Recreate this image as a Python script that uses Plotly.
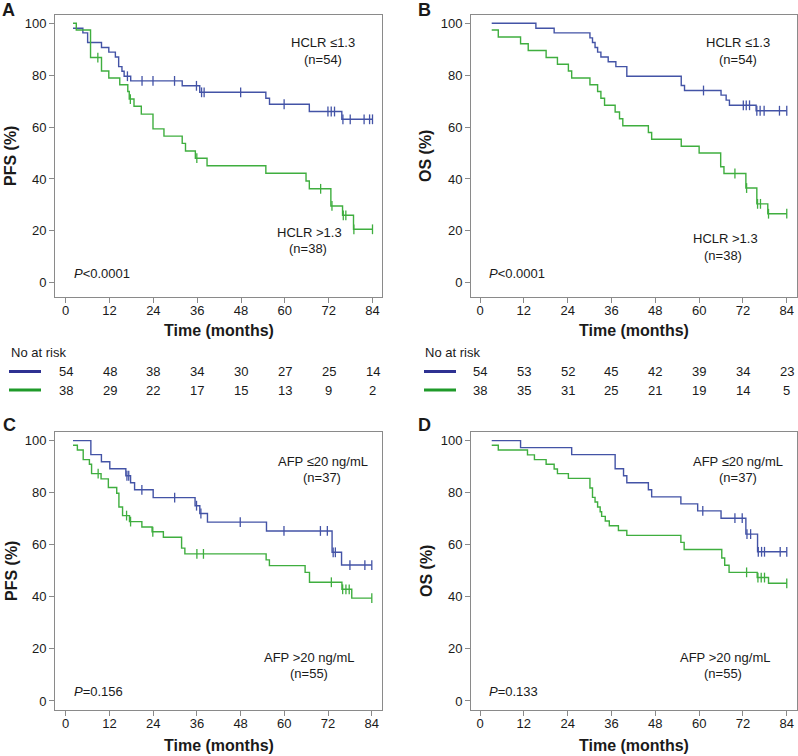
import plotly.graph_objects as go

W, H = 798, 756

# ---------------- data ----------------
# Panel A: PFS by HCLR
a_low_t = [2.0, 4.7, 6.0, 9.8, 11.8, 13.6, 14.5, 15.4, 16.0, 17.8, 31.9, 36.7, 54.8, 55.8, 66.7, 75.6, 84.0]
a_low_s = [98.1, 96.3, 92.6, 90.7, 88.9, 87.0, 83.3, 81.5, 79.6, 77.8, 75.9, 73.4, 71.1, 68.8, 66.0, 63.0, 63.0]
a_low_c = [16.9, 20.9, 23.9, 29.8, 35.8, 37.2, 37.9, 47.9, 59.8, 71.8, 72.7, 73.6, 75.9, 77.9, 81.7, 83.2, 84.0]
a_high_t = [2.0, 2.9, 6.8, 9.8, 11.8, 14.8, 17.0, 17.4, 18.7, 20.7, 23.9, 26.9, 31.9, 32.8, 35.5, 38.7, 54.8, 65.8, 66.7, 72.6, 75.8, 78.8, 84.0]
a_high_s = [100.0, 97.4, 86.8, 81.6, 78.9, 76.3, 73.7, 70.8, 68.0, 65.0, 59.3, 56.5, 53.7, 50.8, 48.0, 45.1, 42.2, 39.2, 36.2, 29.6, 26.0, 20.6, 20.6]
a_high_c = [8.8, 17.7, 35.9, 69.8, 72.9, 76.0, 76.7, 78.9, 84.0]

# Panel B: OS by HCLR
b_low_t = [3.2, 15.3, 20.3, 30.1, 30.8, 31.5, 32.2, 33.1, 35.1, 37.2, 40.2, 55.1, 56.0, 66.0, 67.4, 68.3, 75.6, 84.0]
b_low_s = [100.0, 98.1, 96.3, 94.4, 92.6, 90.7, 88.9, 87.0, 85.2, 83.3, 79.6, 76.0, 74.1, 72.3, 70.4, 68.4, 66.3, 66.3]
b_low_c = [61.2, 72.1, 72.9, 73.8, 75.8, 76.7, 77.8, 82.0, 84.0]
b_high_t = [3.2, 5.0, 11.1, 13.2, 18.1, 21.2, 24.2, 25.1, 30.1, 32.2, 33.1, 34.1, 37.0, 38.2, 39.1, 46.1, 47.0, 55.1, 60.0, 65.9, 66.8, 72.8, 75.8, 78.8, 84.0]
b_high_s = [97.4, 94.7, 92.1, 89.5, 86.8, 84.2, 81.6, 78.9, 76.3, 73.7, 71.1, 68.4, 65.8, 63.2, 60.5, 57.9, 55.3, 52.6, 50.0, 44.7, 42.1, 36.5, 30.4, 26.6, 26.6]
b_high_c = [69.8, 73.0, 76.0, 76.8, 79.0, 84.0]

# Panel C: PFS by AFP
c_low_t = [2.0, 6.9, 9.8, 12.1, 16.5, 17.8, 18.9, 24.0, 35.5, 36.8, 38.9, 55.1, 73.1, 75.7, 84.0]
c_low_s = [100.0, 94.6, 91.9, 89.2, 86.5, 83.8, 81.1, 78.1, 75.0, 72.0, 68.7, 65.3, 57.1, 52.2, 52.2]
c_low_c = [16.8, 17.3, 20.9, 29.9, 35.9, 37.1, 47.9, 59.9, 69.9, 71.8, 73.4, 74.0, 78.0, 82.1, 84.0]
c_high_t = [2.0, 3.2, 4.8, 6.5, 7.1, 9.7, 11.7, 14.0, 14.6, 15.6, 17.5, 20.9, 23.7, 26.8, 31.8, 32.7, 55.0, 55.9, 65.7, 66.9, 75.8, 78.5, 84.0]
c_high_s = [98.2, 96.4, 92.7, 90.9, 87.3, 85.3, 82.0, 79.8, 74.5, 71.2, 68.9, 66.8, 65.0, 62.9, 58.7, 56.5, 54.2, 52.0, 49.4, 45.6, 42.9, 39.5, 39.5]
c_high_c = [8.9, 16.7, 17.8, 23.9, 36.0, 37.8, 72.9, 76.0, 76.9, 77.8, 84.0]

# Panel D: OS by AFP
d_low_t = [3.2, 11.1, 25.1, 37.0, 39.3, 40.2, 46.1, 47.0, 55.0, 59.6, 66.0, 72.8, 76.0, 84.0]
d_low_s = [100.0, 97.3, 94.6, 89.2, 86.5, 83.8, 81.1, 78.4, 75.7, 73.0, 70.2, 64.1, 57.3, 57.3]
d_low_c = [61.0, 69.8, 71.8, 73.1, 74.1, 76.2, 77.1, 77.9, 82.2, 84.0]
d_high_t = [3.2, 5.0, 13.0, 14.9, 18.1, 20.3, 21.2, 24.2, 30.1, 30.8, 31.5, 32.2, 32.9, 33.3, 34.3, 35.4, 37.9, 40.2, 55.0, 55.9, 66.2, 67.0, 68.2, 75.9, 79.0, 84.0]
d_high_s = [98.2, 96.4, 94.5, 92.7, 90.9, 89.1, 87.3, 85.5, 81.8, 78.2, 76.4, 74.5, 72.7, 70.9, 69.1, 67.3, 65.5, 63.6, 60.9, 58.2, 54.9, 52.1, 49.4, 47.4, 45.2, 45.2]
d_high_c = [73.0, 76.1, 77.0, 77.9, 84.0]

# Number at risk
risk_times = [0, 12, 24, 36, 48, 60, 72, 84]
risk_pfs_low = [54, 48, 38, 34, 30, 27, 25, 14]
risk_pfs_high = [38, 29, 22, 17, 15, 13, 9, 2]
risk_os_low = [54, 53, 52, 45, 42, 39, 34, 23]
risk_os_high = [38, 35, 31, 25, 21, 19, 14, 5]

x_ticks = [0, 12, 24, 36, 48, 60, 72, 84]
y_ticks = [0, 20, 40, 60, 80, 100]

# ---------------- styling ----------------
BLUE = "#4353a6"
GREEN = "#3fae3f"
BLUE_DARK = "#2e3192"
GREEN_DARK = "#1f9a2a"
FONT = "Liberation Sans, Arial, sans-serif"
TXT = "#1a1a1a"
FRAME = "#8a8a8a"


def px(x):
    return x / W


def py(y):
    return 1 - y / H


def step_value(ts, ss, c):
    v = ss[0]
    for t, s in zip(ts, ss):
        if t <= c:
            v = s
    return v


fig = go.Figure()

panels = [
    ("", "x", "y", [(a_low_t, a_low_s, a_low_c, BLUE), (a_high_t, a_high_s, a_high_c, GREEN)], (55, 382, 15, 297), (-2.93, 86.6), (-5.5, 103.2)),
    ("2", "x2", "y2", [(b_low_t, b_low_s, b_low_c, BLUE), (b_high_t, b_high_s, b_high_c, GREEN)], (471, 797, 15, 297), (-2.47, 86.8), (-5.5, 103.2)),
    ("3", "x3", "y3", [(c_low_t, c_low_s, c_low_c, BLUE), (c_high_t, c_high_s, c_high_c, GREEN)], (55, 382, 432, 710), (-2.94, 86.8), (-3.46, 103.3)),
    ("4", "x4", "y4", [(d_low_t, d_low_s, d_low_c, BLUE), (d_high_t, d_high_s, d_high_c, GREEN)], (471, 797, 432, 710), (-2.47, 86.8), (-3.46, 103.3)),
]

layout_axes = {}
for suffix, xa, ya, curves, box, xr, yr in panels:
    for ts, ss, cs, col in curves:
        fig.add_trace(go.Scatter(
            x=ts, y=ss, mode="lines", line=dict(color=col, width=1.4, shape="hv"),
            xaxis=xa, yaxis=ya, showlegend=False, hoverinfo="skip"))
        fig.add_trace(go.Scatter(
            x=cs, y=[step_value(ts, ss, c) for c in cs], mode="markers",
            marker=dict(symbol="line-ns-open", size=7, color=col, line=dict(color=col, width=1.3)),
            xaxis=xa, yaxis=ya, showlegend=False, hoverinfo="skip"))
    x0, x1, y0, y1 = box
    common = dict(showline=True, mirror=True, linecolor=FRAME, linewidth=1,
                  ticks="outside", ticklen=5, tickcolor=FRAME, tickwidth=1,
                  showgrid=False, zeroline=False,
                  tickfont=dict(family=FONT, size=13, color=TXT))
    layout_axes["xaxis" + suffix] = dict(domain=[px(x0), px(x1)], range=list(xr),
                                         tickvals=x_ticks, anchor=ya, **common)
    layout_axes["yaxis" + suffix] = dict(domain=[py(y1), py(y0)], range=list(yr),
                                         tickvals=y_ticks, anchor=xa, **common)

fig.update_layout(**layout_axes)

# pull x tick labels a little closer to the axis, as in the reference
for suffix in ["", "2", "3", "4"]:
    try:
        fig.layout["xaxis" + suffix].ticklabelstandoff = -4
    except Exception:
        pass

ann = []


def text(x, y, s, size=13, bold=False, xanchor="center", angle=0, xref="paper", color=TXT):
    if bold:
        s = "<b>" + s + "</b>"
    ann.append(dict(x=x if xref != "paper" else px(x), y=py(y), xref=xref, yref="paper",
                    text=s, showarrow=False, xanchor=xanchor, yanchor="middle",
                    textangle=angle, font=dict(family=FONT, size=size, color=color)))


# panel letters
text(8, 10, "A", size=18, bold=True)
text(424, 10, "B", size=18, bold=True)
text(9, 425, "C", size=18, bold=True)
text(424, 425, "D", size=18, bold=True)

# axis titles
text(11, 156, "PFS (%)", size=16, bold=True, angle=-90)
text(426, 156, "OS (%)", size=16, bold=True, angle=-90)
text(11, 571, "PFS (%)", size=16, bold=True, angle=-90)
text(426, 571, "OS (%)", size=16, bold=True, angle=-90)
text(218.5, 330, "Time (months)", size=16, bold=True)
text(634, 330, "Time (months)", size=16, bold=True)
text(218.5, 745, "Time (months)", size=16, bold=True)
text(634, 745, "Time (months)", size=16, bold=True)

# group labels
text(323, 43, "HCLR ≤1.3")
text(323, 60, "(n=54)")
text(309, 233, "HCLR &gt;1.3")
text(308, 249, "(n=38)")
text(72, 273, "<i>P</i>&lt;0.0001", xanchor="left")

text(738, 43, "HCLR ≤1.3")
text(738, 60, "(n=54)")
text(725, 238, "HCLR &gt;1.3")
text(723, 255, "(n=38)")
text(487, 273, "<i>P</i>&lt;0.0001", xanchor="left")

text(323, 461, "AFP ≤20 ng/mL")
text(322, 477, "(n=37)")
text(309, 657, "AFP &gt;20 ng/mL")
text(309, 673, "(n=55)")
text(72, 691, "<i>P</i>=0.156", xanchor="left")

text(738, 461, "AFP ≤20 ng/mL")
text(738, 477, "(n=37)")
text(725, 657, "AFP &gt;20 ng/mL")
text(723, 673, "(n=55)")
text(487, 691, "<i>P</i>=0.133", xanchor="left")

# number at risk tables
text(9, 352, "No at risk", xanchor="left")
text(423, 352, "No at risk", xanchor="left")
for t, n1, n2 in zip(risk_times, risk_pfs_low, risk_pfs_high):
    text(t, 371.5, str(n1), xref="x")
    text(t, 390, str(n2), xref="x")
for t, n1, n2 in zip(risk_times, risk_os_low, risk_os_high):
    text(t, 371.5, str(n1), xref="x2")
    text(t, 390, str(n2), xref="x2")

shapes = []
for (xa, xb) in [(9, 41), (424, 456)]:
    shapes.append(dict(type="line", xref="paper", yref="paper", x0=px(xa), x1=px(xb),
                       y0=py(371.5), y1=py(371.5), line=dict(color=BLUE_DARK, width=3)))
    shapes.append(dict(type="line", xref="paper", yref="paper", x0=px(xa), x1=px(xb),
                       y0=py(390), y1=py(390), line=dict(color=GREEN_DARK, width=3)))

fig.update_layout(width=W, height=H, autosize=False,
                  margin=dict(l=0, r=0, t=0, b=0),
                  paper_bgcolor="white", plot_bgcolor="white",
                  annotations=ann, shapes=shapes,
                  font=dict(family=FONT, color=TXT))

fig.write_html("out.html", config={"displayModeBar": False},
               post_script="document.body.style.margin='0px';document.body.style.overflow='hidden';")
